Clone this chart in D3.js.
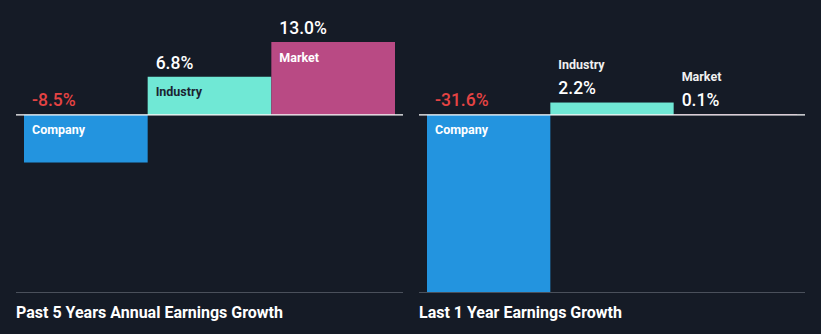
<!DOCTYPE html>
<html>
<head>
<meta charset="utf-8">
<script src="https://cdn.jsdelivr.net/npm/d3@7"></script>
<style>
  html, body { margin: 0; padding: 0; background: #151b26; }
  svg { display: block; }
  text { font-family: Roboto, "Noto Sans", sans-serif; }
</style>
</head>
<body>
<svg id="chart" width="821" height="334"></svg>
<script>
// Earnings growth comparison data
const categories = ["Company", "Industry", "Market"];
const past5Years = [-8.5, 6.8, 13.0];
const last1Year = [-31.6, 2.2, 0.1];
const panelTitles = ["Past 5 Years Annual Earnings Growth", "Last 1 Year Earnings Growth"];

const colors = { Company: "#2394df", Industry: "#70e8d5", Market: "#b94a84" };
const insideText = { Company: "#ffffff", Industry: "#1b2331", Market: "#ffffff" };

const W = 821, H = 334;
const svg = d3.select("#chart");
svg.append("rect").attr("width", W).attr("height", H).attr("fill", "#151b26");

// shared vertical scale for both panels
const all = past5Years.concat(last1Year);
const y = d3.scaleLinear()
  .domain([d3.min(all), d3.max(all)])
  .range([292, 42]);

const panels = [
  { values: past5Years, title: panelTitles[0], x0: 16, x1: 403, titleW: 267 },
  { values: last1Year, title: panelTitles[1], x0: 419, x1: 805, titleW: 203 }
];

// plain hyphen for negative values
const locale = d3.formatLocale({ decimal: ".", thousands: ",", grouping: [3], currency: ["", ""], minus: "-" });
const fmt = v => locale.format(".1f")(v) + "%";

panels.forEach(p => {
  const g = svg.append("g");
  const x = d3.scaleBand().domain(categories).range([p.x0 + 8, p.x1 - 8]).padding(0);
  const data = categories.map((c, i) => ({ cat: c, value: p.values[i] }));

  // bars
  g.selectAll("rect.bar").data(data).join("rect")
    .attr("class", "bar")
    .attr("x", d => x(d.cat))
    .attr("width", x.bandwidth())
    .attr("y", d => Math.min(y(0), y(d.value)))
    .attr("height", d => Math.abs(y(d.value) - y(0)))
    .attr("fill", d => colors[d.cat]);

  // zero line
  g.append("line")
    .attr("x1", p.x0).attr("x2", p.x1)
    .attr("y1", y(0)).attr("y2", y(0))
    .attr("stroke", "#ffffff").attr("stroke-width", 1.2);

  // bottom rule
  g.append("line")
    .attr("x1", p.x0).attr("x2", p.x1)
    .attr("y1", 292.5).attr("y2", 292.5)
    .attr("stroke", "#4a505b").attr("stroke-width", 1);

  data.forEach(d => {
    const top = y(d.value);
    const lx = x(d.cat) + 8;
    let valueY, catY, catFill;
    if (d.value < 0) {
      valueY = y(0) - 9;
      catY = y(0) + 19.5;
      catFill = insideText[d.cat];
    } else if (y(0) - top >= 30) {
      valueY = top - 8;
      catY = top + 19.5;
      catFill = insideText[d.cat];
    } else {
      valueY = top - 8.5;
      catY = valueY - 25;
      catFill = "#f0f0f0";
    }
    g.append("text")
      .attr("x", lx).attr("y", valueY)
      .attr("font-size", 17.5).attr("font-weight", 500)
      .attr("fill", d.value < 0 ? "#e54343" : "#ffffff")
      .text(fmt(d.value));
    g.append("text")
      .attr("x", lx).attr("y", catY)
      .attr("font-size", 12.5).attr("font-weight", 700)
      .attr("fill", catFill)
      .text(d.cat);
  });

  // panel title
  g.append("text")
    .attr("x", p.x0).attr("y", 318)
    .attr("font-size", 16.5).attr("font-weight", 700)
    .attr("fill", "#ffffff")
    .attr("textLength", p.titleW).attr("lengthAdjust", "spacingAndGlyphs")
    .text(p.title);
});
</script>
</body>
</html>
